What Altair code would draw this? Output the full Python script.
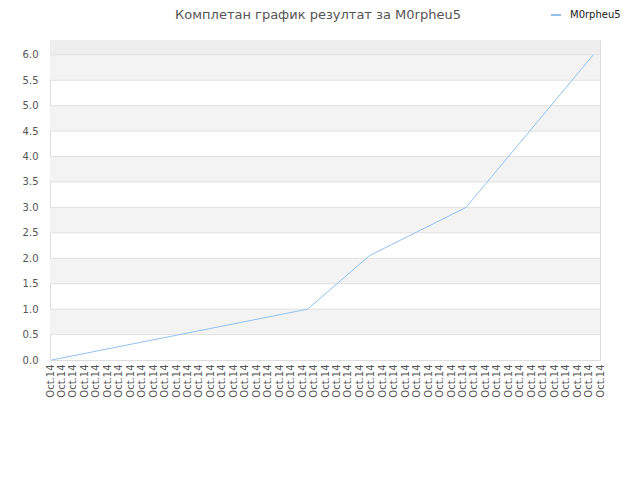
import altair as alt
import pandas as pd

# ---- data ----
title_text = "Комплетан график резултат за M0rpheu5"
series_name = "M0rpheu5"
x_pos = [0.15, 22.49, 27.87, 36.31, 47.42]
y_val = [0.0, 1.0, 2.05, 3.0, 6.0]
x_labels = ["Oct.14"] * 49
y_ticks = [0.0, 0.5, 1.0, 1.5, 2.0, 2.5, 3.0, 3.5, 4.0, 4.5, 5.0, 5.5, 6.0]
y_max = 6.29

W, H = 550, 320
FONT = "DejaVu Sans"
LINE_COLOR = "#92c1f0"

line_df = pd.DataFrame({"x": x_pos, "y": y_val, "s": [series_name] * len(x_pos)})
band_lo = y_ticks[1:-1:2]
band_hi = y_ticks[2::2]
bands_df = pd.DataFrame({"y": band_lo, "y2": band_hi})
top_df = pd.DataFrame({"y": [y_ticks[-1]], "y2": [y_max]})
grid_df = pd.DataFrame({"y": y_ticks[1:]})

label_expr = "[" + ",".join("'" + s + "'" for s in x_labels) + "][datum.value]"

xscale = alt.Scale(domain=[0, len(x_labels) - 1], nice=False, zero=False)
yscale = alt.Scale(domain=[0, y_max], nice=False, zero=True)

xaxis = alt.Axis(values=list(range(len(x_labels))), labelExpr=label_expr, labelAngle=270,
                 labelFont=FONT, labelFontSize=10, labelColor="#555555", labelPadding=4,
                 ticks=False, domain=False, grid=False, title=None, labelOverlap=False,
                 labelBound=False, labelFlush=False)
yaxis = alt.Axis(values=y_ticks, format=".1f", labelFont=FONT, labelFontSize=10,
                 labelColor="#555555", labelPadding=12, ticks=False, domain=False,
                 grid=False, title=None, labelOverlap=False, labelFlush=False)

bands = alt.Chart(bands_df).mark_rect(color="#f3f3f3").encode(
    x=alt.value(0), x2=alt.value(W),
    y=alt.Y("y:Q", scale=yscale, axis=yaxis), y2="y2:Q")
top = alt.Chart(top_df).mark_rect(color="#eeeeee").encode(
    x=alt.value(0), x2=alt.value(W),
    y=alt.Y("y:Q", scale=yscale, axis=yaxis), y2="y2:Q")
grid = alt.Chart(grid_df).mark_rule(color="#e0e0e0", strokeWidth=1).encode(
    x=alt.value(0), x2=alt.value(W), y=alt.Y("y:Q", scale=yscale, axis=yaxis))
line = alt.Chart(line_df).mark_line(color=LINE_COLOR, strokeWidth=1).encode(
    x=alt.X("x:Q", scale=xscale, axis=xaxis),
    y=alt.Y("y:Q", scale=yscale, axis=yaxis))

title = alt.Chart(pd.DataFrame({"t": [title_text]})).mark_text(
    font=FONT, fontSize=13, color="#555555", align="center", baseline="middle").encode(
    text="t:N", x=alt.value(268), y=alt.value(-25))
leg_sym = alt.Chart(pd.DataFrame({"s": [series_name]})).mark_rule(
    color=LINE_COLOR, strokeWidth=2).encode(
    x=alt.value(501), x2=alt.value(511), y=alt.value(-25))
leg_txt = alt.Chart(pd.DataFrame({"s": [series_name]})).mark_text(
    font=FONT, fontSize=10, color="#222222", align="left", baseline="middle").encode(
    text="s:N", x=alt.value(520), y=alt.value(-25))

chart = alt.layer(bands, top, grid, line, title, leg_sym, leg_txt).properties(
    width=W, height=H,
    autosize=alt.AutoSizeParams(type="none"),
    padding={"left": 42, "top": 32, "right": 24, "bottom": 60},
).configure_view(stroke="#dddddd", strokeWidth=1)

chart.save("out.html", embed_options={"renderer": "svg", "actions": False})
